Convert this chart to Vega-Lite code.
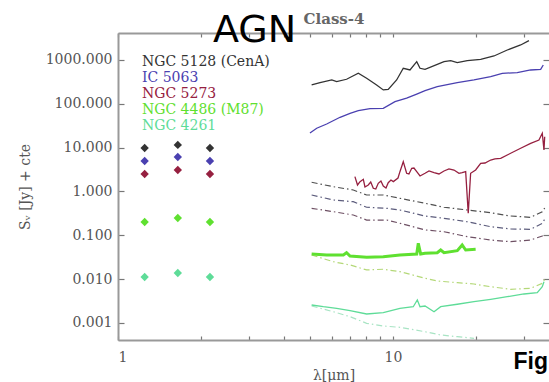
{
"$schema": "https://vega.github.io/schema/vega-lite/v6.json",
"width": 431, "height": 307,
"autosize": "none",
"padding": {"left": 118, "top": 33, "right": 0, "bottom": 42},
"background": "white",
"config": {"view": {"stroke": null},
  "axis": {"labelFont": "DejaVu Serif", "labelFontSize": 14, "labelColor": "#555", "titleFont": "DejaVu Serif", "titleFontSize": 14, "titleFontWeight": "normal", "titleColor": "#555", "grid": false, "domainColor": "#999", "domainWidth": 2, "tickColor": "#777", "tickWidth": 1.2}},
"title": {"text": "AGN", "anchor": "start", "frame": "group", "dx": 95, "offset": -69, "baseline": "alphabetic", "font": "DejaVu Sans", "fontSize": 38, "fontWeight": "normal", "color": "black"},
"datasets": {
"spec": [
{"s":"NGC 5128 (CenA)","t":"spec","x":5.06,"y":269},{"s":"NGC 5128 (CenA)","t":"spec","x":5.43,"y":303},{"s":"NGC 5128 (CenA)","t":"spec","x":5.99,"y":350},{"s":"NGC 5128 (CenA)","t":"spec","x":6.24,"y":320},{"s":"NGC 5128 (CenA)","t":"spec","x":6.78,"y":363},{"s":"NGC 5128 (CenA)","t":"spec","x":7.48,"y":497},{"s":"NGC 5128 (CenA)","t":"spec","x":8.02,"y":382},{"s":"NGC 5128 (CenA)","t":"spec","x":8.72,"y":269},{"s":"NGC 5128 (CenA)","t":"spec","x":9.22,"y":207},{"s":"NGC 5128 (CenA)","t":"spec","x":9.61,"y":214},{"s":"NGC 5128 (CenA)","t":"spec","x":10.31,"y":350},{"s":"NGC 5128 (CenA)","t":"spec","x":10.9,"y":646},{"s":"NGC 5128 (CenA)","t":"spec","x":11.53,"y":591},{"s":"NGC 5128 (CenA)","t":"spec","x":12.2,"y":915},{"s":"NGC 5128 (CenA)","t":"spec","x":12.54,"y":646},{"s":"NGC 5128 (CenA)","t":"spec","x":13.08,"y":613},{"s":"NGC 5128 (CenA)","t":"spec","x":14.49,"y":798},{"s":"NGC 5128 (CenA)","t":"spec","x":15.33,"y":915},{"s":"NGC 5128 (CenA)","t":"spec","x":16.21,"y":964},{"s":"NGC 5128 (CenA)","t":"spec","x":17.13,"y":868},{"s":"NGC 5128 (CenA)","t":"spec","x":18.63,"y":964},{"s":"NGC 5128 (CenA)","t":"spec","x":20.84,"y":1037},{"s":"NGC 5128 (CenA)","t":"spec","x":23.3,"y":1234},{"s":"NGC 5128 (CenA)","t":"spec","x":26.04,"y":1691},{"s":"NGC 5128 (CenA)","t":"spec","x":29.13,"y":2200},{"s":"NGC 5128 (CenA)","t":"spec","x":31.22,"y":2758},
{"s":"IC 5063","t":"spec","x":4.99,"y":21.5},{"s":"IC 5063","t":"spec","x":5.28,"y":27.6},{"s":"IC 5063","t":"spec","x":5.74,"y":34.6},{"s":"IC 5063","t":"spec","x":6.42,"y":49.2},{"s":"IC 5063","t":"spec","x":6.98,"y":60.7},{"s":"IC 5063","t":"spec","x":7.48,"y":69.6},{"s":"IC 5063","t":"spec","x":8.25,"y":77.3},{"s":"IC 5063","t":"spec","x":9.22,"y":78.9},{"s":"IC 5063","t":"spec","x":10.17,"y":112},{"s":"IC 5063","t":"spec","x":11.21,"y":134},{"s":"IC 5063","t":"spec","x":12.2,"y":167},{"s":"IC 5063","t":"spec","x":13.08,"y":199},{"s":"IC 5063","t":"spec","x":14.49,"y":246},{"s":"IC 5063","t":"spec","x":17.13,"y":303},{"s":"IC 5063","t":"spec","x":19.7,"y":350},{"s":"IC 5063","t":"spec","x":22.66,"y":416},{"s":"IC 5063","t":"spec","x":24.97,"y":497},{"s":"IC 5063","t":"spec","x":28.31,"y":513},{"s":"IC 5063","t":"spec","x":31.67,"y":591},{"s":"IC 5063","t":"spec","x":34.44,"y":613},{"s":"IC 5063","t":"spec","x":35.2,"y":769},
{"s":"NGC 5273","t":"spec","x":7.27,"y":2.17},{"s":"NGC 5273","t":"spec","x":7.43,"y":1.4},{"s":"NGC 5273","t":"spec","x":7.59,"y":1.67},{"s":"NGC 5273","t":"spec","x":7.8,"y":1.89},{"s":"NGC 5273","t":"spec","x":7.91,"y":1.26},{"s":"NGC 5273","t":"spec","x":8.13,"y":1.4},{"s":"NGC 5273","t":"spec","x":8.3,"y":1.64},{"s":"NGC 5273","t":"spec","x":8.48,"y":1.18},{"s":"NGC 5273","t":"spec","x":8.66,"y":1.13},{"s":"NGC 5273","t":"spec","x":8.84,"y":1.53},{"s":"NGC 5273","t":"spec","x":9.04,"y":1.73},{"s":"NGC 5273","t":"spec","x":9.22,"y":1.33},{"s":"NGC 5273","t":"spec","x":9.43,"y":1.2},{"s":"NGC 5273","t":"spec","x":9.61,"y":1.58},{"s":"NGC 5273","t":"spec","x":9.83,"y":1.82},{"s":"NGC 5273","t":"spec","x":10.03,"y":1.67},{"s":"NGC 5273","t":"spec","x":10.43,"y":2.02},{"s":"NGC 5273","t":"spec","x":10.6,"y":2.82},{"s":"NGC 5273","t":"spec","x":10.9,"y":4.77},{"s":"NGC 5273","t":"spec","x":11.21,"y":2.59},{"s":"NGC 5273","t":"spec","x":11.43,"y":2.5},{"s":"NGC 5273","t":"spec","x":11.7,"y":3.37},{"s":"NGC 5273","t":"spec","x":11.92,"y":3.42},{"s":"NGC 5273","t":"spec","x":12.2,"y":2.82},{"s":"NGC 5273","t":"spec","x":12.54,"y":2.25},{"s":"NGC 5273","t":"spec","x":13.08,"y":2.59},{"s":"NGC 5273","t":"spec","x":13.52,"y":2.92},{"s":"NGC 5273","t":"spec","x":14.1,"y":2.67},{"s":"NGC 5273","t":"spec","x":14.7,"y":2.5},{"s":"NGC 5273","t":"spec","x":15.33,"y":2.92},{"s":"NGC 5273","t":"spec","x":15.98,"y":3.25},{"s":"NGC 5273","t":"spec","x":16.67,"y":3.08},{"s":"NGC 5273","t":"spec","x":17.38,"y":2.59},{"s":"NGC 5273","t":"spec","x":17.85,"y":2.67},{"s":"NGC 5273","t":"spec","x":18.38,"y":2.82},{"s":"NGC 5273","t":"spec","x":18.78,"y":0.316},{"s":"NGC 5273","t":"spec","x":19.16,"y":2.59},{"s":"NGC 5273","t":"spec","x":19.98,"y":3.08},{"s":"NGC 5273","t":"spec","x":20.84,"y":4.38},{"s":"NGC 5273","t":"spec","x":21.61,"y":4.45},{"s":"NGC 5273","t":"spec","x":22.66,"y":5.21},{"s":"NGC 5273","t":"spec","x":23.49,"y":5.5},{"s":"NGC 5273","t":"spec","x":24.64,"y":5.7},{"s":"NGC 5273","t":"spec","x":26.79,"y":7.41},{"s":"NGC 5273","t":"spec","x":29.13,"y":9.64},{"s":"NGC 5273","t":"spec","x":31.67,"y":12.5},{"s":"NGC 5273","t":"spec","x":33.95,"y":14.9},{"s":"NGC 5273","t":"spec","x":34.91,"y":21.2},{"s":"NGC 5273","t":"spec","x":35.41,"y":8.81},{"s":"NGC 5273","t":"spec","x":35.62,"y":17.7},
{"s":"NGC 4486 (M87)","t":"spec","x":5.06,"y":0.0372},{"s":"NGC 4486 (M87)","t":"spec","x":5.74,"y":0.0353},{"s":"NGC 4486 (M87)","t":"spec","x":6.6,"y":0.0353},{"s":"NGC 4486 (M87)","t":"spec","x":6.78,"y":0.0399},{"s":"NGC 4486 (M87)","t":"spec","x":6.98,"y":0.0335},{"s":"NGC 4486 (M87)","t":"spec","x":8.02,"y":0.0313},{"s":"NGC 4486 (M87)","t":"spec","x":9.22,"y":0.0323},{"s":"NGC 4486 (M87)","t":"spec","x":10.6,"y":0.0353},{"s":"NGC 4486 (M87)","t":"spec","x":12.2,"y":0.0372},{"s":"NGC 4486 (M87)","t":"spec","x":12.36,"y":0.0653},{"s":"NGC 4486 (M87)","t":"spec","x":12.61,"y":0.0372},{"s":"NGC 4486 (M87)","t":"spec","x":13.08,"y":0.0386},{"s":"NGC 4486 (M87)","t":"spec","x":14.49,"y":0.0399},{"s":"NGC 4486 (M87)","t":"spec","x":14.91,"y":0.0459},{"s":"NGC 4486 (M87)","t":"spec","x":15.33,"y":0.0399},{"s":"NGC 4486 (M87)","t":"spec","x":17.13,"y":0.0443},{"s":"NGC 4486 (M87)","t":"spec","x":17.85,"y":0.0598},{"s":"NGC 4486 (M87)","t":"spec","x":18.38,"y":0.0459},{"s":"NGC 4486 (M87)","t":"spec","x":19.98,"y":0.0477},
{"s":"NGC 4261","t":"spec","x":5.06,"y":0.00255},{"s":"NGC 4261","t":"spec","x":5.58,"y":0.00233},{"s":"NGC 4261","t":"spec","x":6.24,"y":0.00214},{"s":"NGC 4261","t":"spec","x":6.98,"y":0.00189},{"s":"NGC 4261","t":"spec","x":8.02,"y":0.00159},{"s":"NGC 4261","t":"spec","x":9.22,"y":0.0017},{"s":"NGC 4261","t":"spec","x":10.6,"y":0.00214},{"s":"NGC 4261","t":"spec","x":11.85,"y":0.00233},{"s":"NGC 4261","t":"spec","x":12.26,"y":0.00332},{"s":"NGC 4261","t":"spec","x":12.54,"y":0.00233},{"s":"NGC 4261","t":"spec","x":13.08,"y":0.00242},{"s":"NGC 4261","t":"spec","x":14.1,"y":0.00179},{"s":"NGC 4261","t":"spec","x":14.91,"y":0.00233},{"s":"NGC 4261","t":"spec","x":17.13,"y":0.00265},{"s":"NGC 4261","t":"spec","x":19.7,"y":0.00303},{"s":"NGC 4261","t":"spec","x":22.66,"y":0.00344},{"s":"NGC 4261","t":"spec","x":26.04,"y":0.00394},{"s":"NGC 4261","t":"spec","x":29.95,"y":0.00455},{"s":"NGC 4261","t":"spec","x":33.47,"y":0.00487},{"s":"NGC 4261","t":"spec","x":34.91,"y":0.00667},{"s":"NGC 4261","t":"spec","x":35.41,"y":0.00868},
{"s":"m1","t":"model","x":5.06,"y":1.614},{"s":"m1","t":"model","x":6.07,"y":1.28},{"s":"m1","t":"model","x":7.17,"y":1.076},{"s":"m1","t":"model","x":8.02,"y":0.828},{"s":"m1","t":"model","x":9.22,"y":0.828},{"s":"m1","t":"model","x":10.6,"y":0.696},{"s":"m1","t":"model","x":13.08,"y":0.535},{"s":"m1","t":"model","x":15.33,"y":0.434},{"s":"m1","t":"model","x":18.63,"y":0.376},{"s":"m1","t":"model","x":22.66,"y":0.326},{"s":"m1","t":"model","x":26.79,"y":0.274},{"s":"m1","t":"model","x":31.67,"y":0.256},{"s":"m1","t":"model","x":34.91,"y":0.344},{"s":"m1","t":"model","x":35.62,"y":0.418},
{"s":"m2","t":"model","x":5.06,"y":0.828},{"s":"m2","t":"model","x":6.07,"y":0.636},{"s":"m2","t":"model","x":7.17,"y":0.582},{"s":"m2","t":"model","x":8.02,"y":0.434},{"s":"m2","t":"model","x":9.49,"y":0.411},{"s":"m2","t":"model","x":10.6,"y":0.376},{"s":"m2","t":"model","x":13.08,"y":0.274},{"s":"m2","t":"model","x":15.33,"y":0.243},{"s":"m2","t":"model","x":18.63,"y":0.203},{"s":"m2","t":"model","x":22.66,"y":0.156},{"s":"m2","t":"model","x":26.79,"y":0.139},{"s":"m2","t":"model","x":31.67,"y":0.136},{"s":"m2","t":"model","x":34.91,"y":0.187},{"s":"m2","t":"model","x":35.62,"y":0.231},
{"s":"m3","t":"model","x":5.06,"y":0.411},{"s":"m3","t":"model","x":6.07,"y":0.344},{"s":"m3","t":"model","x":7.17,"y":0.289},{"s":"m3","t":"model","x":8.02,"y":0.222},{"s":"m3","t":"model","x":9.49,"y":0.222},{"s":"m3","t":"model","x":10.6,"y":0.187},{"s":"m3","t":"model","x":13.08,"y":0.132},{"s":"m3","t":"model","x":15.33,"y":0.12},{"s":"m3","t":"model","x":18.63,"y":0.0924},{"s":"m3","t":"model","x":22.66,"y":0.0777},{"s":"m3","t":"model","x":26.79,"y":0.0711},{"s":"m3","t":"model","x":31.67,"y":0.0777},{"s":"m3","t":"model","x":34.91,"y":0.0959},{"s":"m3","t":"model","x":35.62,"y":0.1105},
{"s":"m4","t":"model","x":5.06,"y":0.0353},{"s":"m4","t":"model","x":6.07,"y":0.0248},{"s":"m4","t":"model","x":6.98,"y":0.0209},{"s":"m4","t":"model","x":8.02,"y":0.0161},{"s":"m4","t":"model","x":9.22,"y":0.0167},{"s":"m4","t":"model","x":10.6,"y":0.0147},{"s":"m4","t":"model","x":13.08,"y":0.0104},{"s":"m4","t":"model","x":14.49,"y":0.009},{"s":"m4","t":"model","x":17.13,"y":0.00823},{"s":"m4","t":"model","x":19.7,"y":0.00769},{"s":"m4","t":"model","x":22.66,"y":0.00667},{"s":"m4","t":"model","x":26.79,"y":0.00582},{"s":"m4","t":"model","x":31.67,"y":0.00613},{"s":"m4","t":"model","x":34.91,"y":0.00798},{"s":"m4","t":"model","x":35.62,"y":0.00984},
{"s":"m5","t":"model","x":5.06,"y":0.00242},{"s":"m5","t":"model","x":6.07,"y":0.00179},{"s":"m5","t":"model","x":6.98,"y":0.00138},{"s":"m5","t":"model","x":8.02,"y":0.000974},{"s":"m5","t":"model","x":9.22,"y":0.000845},{"s":"m5","t":"model","x":10.6,"y":0.000789},{"s":"m5","t":"model","x":13.08,"y":0.000626},{"s":"m5","t":"model","x":14.91,"y":0.000527},{"s":"m5","t":"model","x":17.13,"y":0.000482},{"s":"m5","t":"model","x":19.7,"y":0.000443}
],
"phot": [
{"s":"NGC 5128 (CenA)","x":1.25,"y":9.8},{"s":"NGC 5128 (CenA)","x":1.65,"y":11.5},{"s":"NGC 5128 (CenA)","x":2.16,"y":9.8},
{"s":"IC 5063","x":1.25,"y":4.94},{"s":"IC 5063","x":1.65,"y":6.1},{"s":"IC 5063","x":2.16,"y":4.94},
{"s":"NGC 5273","x":1.25,"y":2.5},{"s":"NGC 5273","x":1.65,"y":3.08},{"s":"NGC 5273","x":2.16,"y":2.5},
{"s":"NGC 4486 (M87)","x":1.25,"y":0.2},{"s":"NGC 4486 (M87)","x":1.65,"y":0.247},{"s":"NGC 4486 (M87)","x":2.16,"y":0.2},
{"s":"NGC 4261","x":1.25,"y":0.0111},{"s":"NGC 4261","x":1.65,"y":0.0137},{"s":"NGC 4261","x":2.16,"y":0.0111}
]
},
"layer": [
{"data": {"name": "spec"},
 "transform": [{"filter": "datum.t === 'model'"}],
 "mark": {"type": "line", "strokeWidth": 1.2, "strokeDash": [6, 3, 1.5, 3], "clip": true},
 "encoding": {
  "x": {"field": "x", "type": "quantitative", "scale": {"type": "log", "domain": [1, 36.93], "nice": false},
        "axis": {"orient": "top", "values": [1,2,3,4,5,6,7,8,9,10,20,30], "labels": false, "tickSize": -4, "title": "Class-4", "titleFontWeight": "bold", "titleFontSize": 15, "titleColor": "#666", "titlePadding": 6}},
  "y": {"field": "y", "type": "quantitative", "scale": {"type": "log", "domain": [0.000405, 4130], "nice": false},
        "axis": {"orient": "right", "values": [0.001,0.01,0.1,1,10,100,1000], "labels": false, "domain": false, "tickSize": -6, "title": "Fig", "titleAngle": 0, "titleX": -36, "titleY": 335, "titleAlign": "left", "titleBaseline": "alphabetic", "titleFont": "Liberation Sans", "titleFontWeight": "bold", "titleFontSize": 23, "titleColor": "black"}},
  "color": {"field": "s", "type": "nominal"}
 }},
{"data": {"name": "spec"},
 "transform": [{"filter": "datum.t === 'spec'"}],
 "mark": {"type": "line", "clip": true},
 "encoding": {
  "x": {"field": "x", "type": "quantitative", "scale": {"type": "log", "domain": [1, 36.93], "nice": false}, "axis": null},
  "y": {"field": "y", "type": "quantitative", "scale": {"type": "log", "domain": [0.000405, 4130], "nice": false}, "axis": null},
  "color": {"field": "s", "type": "nominal"},
  "strokeWidth": {"condition": {"test": "datum.s === 'NGC 4486 (M87)'", "value": 3}, "value": 1.3}
 }},
{"data": {"name": "phot"},
 "mark": {"type": "point", "shape": "diamond", "filled": true, "size": 70, "opacity": 1},
 "encoding": {
  "x": {"field": "x", "type": "quantitative", "scale": {"type": "log", "domain": [1, 36.93], "nice": false},
        "axis": {"orient": "bottom", "values": [1,2,3,4,5,6,7,8,9,10,20,30], "labelExpr": "datum.value == 1 || datum.value == 10 ? datum.label : ''", "format": "d", "tickSize": -4, "labelPadding": 14, "title": "λ[μm]", "titlePadding": 4}},
  "y": {"field": "y", "type": "quantitative", "scale": {"type": "log", "domain": [0.000405, 4130], "nice": false},
        "axis": {"orient": "left", "values": [0.001,0.01,0.1,1,10,100,1000], "format": ".3f", "tickSize": -6, "labelPadding": 12, "title": "Sᵥ [Jy] + cte", "titlePadding": 13}},
  "color": {"field": "s", "type": "nominal",
    "scale": {"domain": ["NGC 5128 (CenA)","IC 5063","NGC 5273","NGC 4486 (M87)","NGC 4261","m1","m2","m3","m4","m5"],
              "range": ["#333333","#4a40b0","#962040","#5fe030","#5edc98","#505050","#5c5c7c","#6e5064","#b4d878","#a8e4c4"]},
    "legend": {"values": ["NGC 5128 (CenA)","IC 5063","NGC 5273","NGC 4486 (M87)","NGC 4261"], "orient": "none", "legendX": 10, "legendY": 22, "title": null, "padding": 0, "labelFont": "DejaVu Serif", "labelFontSize": 14, "labelOffset": 0, "symbolSize": 0, "symbolStrokeWidth": 0, "symbolOpacity": 0, "rowPadding": 2,
      "encode": {"labels": {"update": {"fill": {"scale": "color", "field": "value"}}}}}}
 }}
],
"resolve": {"axis": {"x": "independent", "y": "independent"}}
}
